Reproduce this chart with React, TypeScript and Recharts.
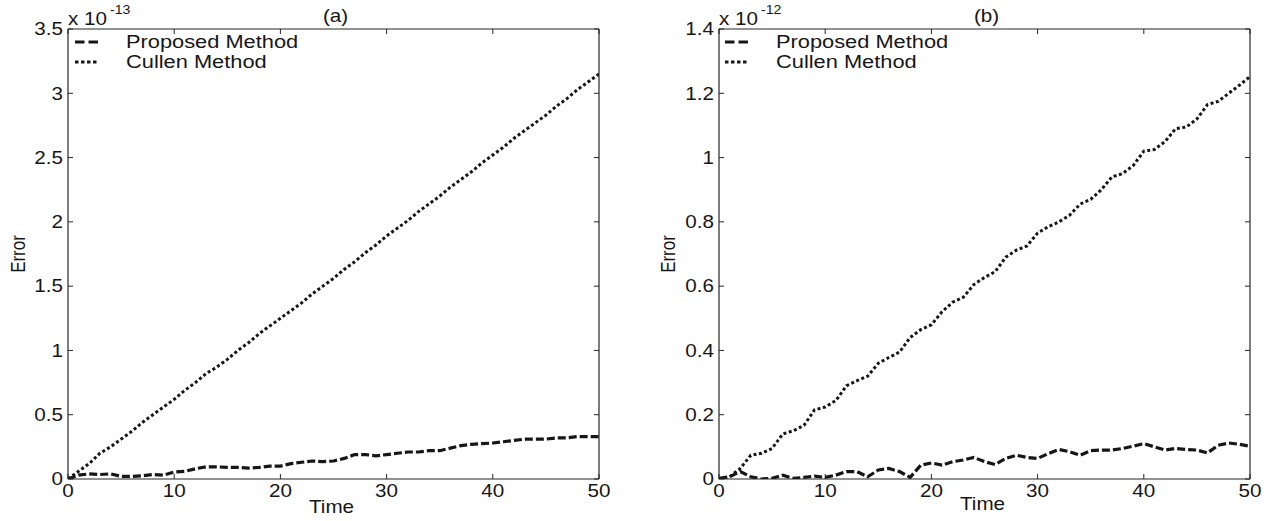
import React from 'react';
import { LineChart, Line, XAxis, YAxis, Legend, Label } from 'recharts';

const FONT = '"Liberation Sans", Arial, Helvetica, sans-serif';
const SX = 1.18; // horizontal stretch of glyphs
const INK = '#161616';
const FRAME = '#262626';
const TICK_LEN = 5;

const timeSteps = [
  0, 1, 2, 3, 4, 5, 6, 7, 8, 9, 10, 11, 12, 13, 14, 15, 16, 17, 18, 19, 20,
  21, 22, 23, 24, 25, 26, 27, 28, 29, 30, 31, 32, 33, 34, 35, 36, 37, 38, 39, 40,
  41, 42, 43, 44, 45, 46, 47, 48, 49, 50,
];

// Panel (a), values in units of 1e-13
const proposedA = [
  0, 0.03, 0.04, 0.035, 0.04, 0.02, 0.02, 0.025, 0.035, 0.03, 0.055,
  0.06, 0.08, 0.095, 0.095, 0.09, 0.09, 0.085, 0.09, 0.1, 0.1,
  0.12, 0.13, 0.14, 0.135, 0.14, 0.16, 0.19, 0.19, 0.18, 0.19,
  0.2, 0.21, 0.21, 0.22, 0.22, 0.24, 0.26, 0.27, 0.275, 0.28,
  0.29, 0.3, 0.31, 0.31, 0.31, 0.32, 0.32, 0.33, 0.33, 0.33,
];
const cullenA = [
  0, 0.06, 0.12, 0.2, 0.25, 0.31, 0.37, 0.44, 0.5, 0.56, 0.62,
  0.69, 0.75, 0.82, 0.87, 0.93, 1.0, 1.06, 1.13, 1.19, 1.25,
  1.31, 1.37, 1.44, 1.5, 1.56, 1.63, 1.69, 1.76, 1.82, 1.89,
  1.95, 2.01, 2.08, 2.14, 2.2, 2.27, 2.33, 2.39, 2.46, 2.52,
  2.58, 2.65, 2.71, 2.77, 2.83, 2.9, 2.96, 3.03, 3.09, 3.15,
];

// Panel (b), values in units of 1e-12
const proposedB = [
  0.002, 0.007, 0.023, 0.007, 0.0, 0.002, 0.012, 0.002, 0.005, 0.009, 0.005,
  0.012, 0.023, 0.023, 0.007, 0.028, 0.033, 0.023, 0.005, 0.043, 0.05,
  0.043, 0.054, 0.059, 0.067, 0.054, 0.045, 0.064, 0.074, 0.067, 0.064,
  0.079, 0.092, 0.085, 0.074, 0.088, 0.09, 0.09, 0.095, 0.102, 0.11,
  0.1, 0.09, 0.095, 0.092, 0.09, 0.081, 0.105, 0.112, 0.108, 0.102,
];
const cullenB = [
  0, 0.007, 0.033, 0.074, 0.08, 0.095, 0.14, 0.15, 0.167, 0.215, 0.224,
  0.244, 0.29, 0.306, 0.32, 0.36, 0.378, 0.395, 0.44, 0.465, 0.48,
  0.52, 0.55, 0.565, 0.605, 0.627, 0.645, 0.69, 0.712, 0.725, 0.765,
  0.785, 0.8, 0.82, 0.855, 0.87, 0.9, 0.94, 0.95, 0.975, 1.02,
  1.025, 1.05, 1.09, 1.095, 1.12, 1.165, 1.175, 1.2, 1.225, 1.252,
];

const xTicks = [0, 10, 20, 30, 40, 50];
const yTicksA = [0, 0.5, 1, 1.5, 2, 2.5, 3, 3.5];
const yTicksB = [0, 0.2, 0.4, 0.6, 0.8, 1, 1.2, 1.4];

const textStyle = { fontFamily: FONT, fill: INK } as const;

function LeftTick(props: any) {
  const { x, y, payload } = props;
  const ax = x + 5;
  return (
    <g>
      <line x1={ax} y1={y} x2={ax + TICK_LEN} y2={y} stroke={FRAME} strokeWidth={1} />
      <text
        transform={`translate(${x},${y + 6.3}) scale(${SX},1)`}
        textAnchor="end"
        fontSize={17.5}
        {...textStyle}
      >
        {String(payload.value)}
      </text>
    </g>
  );
}

function BottomTick(props: any) {
  const { x, y, payload } = props;
  return (
    <g>
      <line x1={x} y1={y} x2={x} y2={y - TICK_LEN} stroke={FRAME} strokeWidth={1} />
      <text
        transform={`translate(${x},${y + 18}) scale(${SX},1)`}
        textAnchor="middle"
        fontSize={17.5}
        {...textStyle}
      >
        {String(payload.value)}
      </text>
    </g>
  );
}

function RightTick(props: any) {
  const { x, y } = props;
  return <line x1={x} y1={y} x2={x - TICK_LEN} y2={y} stroke={FRAME} strokeWidth={1} />;
}

function TopTick(props: any) {
  const { x, y } = props;
  return <line x1={x} y1={y} x2={x} y2={y + TICK_LEN} stroke={FRAME} strokeWidth={1} />;
}

function LegendBox() {
  return (
    <svg width={260} height={48} style={{ display: 'block', overflow: 'visible' }}>
      <line x1={5} y1={12} x2={28} y2={12} stroke={INK} strokeWidth={3} strokeDasharray="9.5 4" />
      <text transform={`translate(56,18) scale(${SX},1)`} fontSize={18.5} {...textStyle}>
        Proposed Method
      </text>
      <line x1={5} y1={32} x2={28} y2={32} stroke={INK} strokeWidth={3} strokeDasharray="3.5 2.5" />
      <text transform={`translate(56,38) scale(${SX},1)`} fontSize={18.5} {...textStyle}>
        Cullen Method
      </text>
    </svg>
  );
}

type PanelProps = {
  left: number;
  width: number;
  marginLeft: number;
  marginRight: number;
  title: string;
  exponent: string;
  proposed: number[];
  cullen: number[];
  yMax: number;
  yTicks: number[];
  timeBaseline: number;
};

function Panel(p: PanelProps) {
  const data = timeSteps.map((t, i) => ({ t, proposed: p.proposed[i], cullen: p.cullen[i] }));
  const plotLeft = p.marginLeft + 60;
  const plotRight = p.width - p.marginRight - 10;
  const plotMid = (plotLeft + plotRight) / 2;
  const axisLine = { stroke: FRAME, strokeWidth: 1.2 };

  return (
    <div style={{ position: 'absolute', left: p.left, top: 0 }}>
      <LineChart
        width={p.width}
        height={521}
        data={data}
        margin={{ top: 19, right: p.marginRight, bottom: 12, left: p.marginLeft }}
      >
        <XAxis
          xAxisId="b"
          dataKey="t"
          type="number"
          domain={[0, 50]}
          ticks={xTicks}
          allowDataOverflow
          height={30}
          tickSize={0}
          tickMargin={0}
          tickLine={false}
          axisLine={axisLine}
          tick={(tp: any) => <BottomTick {...tp} />}
          interval={0}
        >
          <Label
            content={() => (
              <text
                transform={`translate(${plotMid - 2},${p.timeBaseline}) scale(${SX},1)`}
                textAnchor="middle"
                fontSize={17.5}
                {...textStyle}
              >
                Time
              </text>
            )}
          />
        </XAxis>
        <XAxis
          xAxisId="top"
          orientation="top"
          type="number"
          domain={[0, 50]}
          ticks={xTicks}
          allowDataOverflow
          height={10}
          tickSize={0}
          tickMargin={0}
          tickLine={false}
          axisLine={axisLine}
          tick={(tp: any) => <TopTick {...tp} />}
          interval={0}
        >
          <Label
            content={() => (
              <g>
                <text
                  transform={`translate(${plotMid + 2},22) scale(${SX},1)`}
                  textAnchor="middle"
                  fontSize={17.5}
                  {...textStyle}
                >
                  {p.title}
                </text>
                <text transform={`translate(${plotLeft},25) scale(${SX},1)`} fontSize={17.5} {...textStyle}>
                  x 10
                </text>
                <text transform={`translate(${plotLeft + 42},14) scale(${SX},1)`} fontSize={12} {...textStyle}>
                  {p.exponent}
                </text>
              </g>
            )}
          />
        </XAxis>
        <YAxis
          yAxisId="l"
          type="number"
          domain={[0, p.yMax]}
          ticks={p.yTicks}
          allowDataOverflow
          width={60}
          tickSize={0}
          tickMargin={5}
          tickLine={false}
          axisLine={axisLine}
          tick={(tp: any) => <LeftTick {...tp} />}
          interval={0}
        >
          <Label
            content={() => (
              <text
                transform={`translate(${p.left === 0 ? 25 : 25},254) scale(${SX},1) rotate(-90)`}
                textAnchor="middle"
                fontSize={17}
                {...textStyle}
              >
                Error
              </text>
            )}
          />
        </YAxis>
        <YAxis
          yAxisId="r"
          orientation="right"
          type="number"
          domain={[0, p.yMax]}
          ticks={p.yTicks}
          allowDataOverflow
          width={10}
          tickSize={0}
          tickMargin={0}
          tickLine={false}
          axisLine={axisLine}
          tick={(tp: any) => <RightTick {...tp} />}
          interval={0}
        />
        <Legend
          layout="horizontal"
          verticalAlign="middle"
          align="center"
          wrapperStyle={{ left: 70, top: 30, width: 'auto', height: 'auto' }}
          content={() => <LegendBox />}
        />
        <Line
          xAxisId="b"
          yAxisId="l"
          type="linear"
          dataKey="cullen"
          name="Cullen Method"
          stroke={INK}
          strokeWidth={3}
          strokeDasharray="3 2.5"
          dot={false}
          isAnimationActive={false}
        />
        <Line
          xAxisId="b"
          yAxisId="l"
          type="linear"
          dataKey="proposed"
          name="Proposed Method"
          stroke={INK}
          strokeWidth={3.2}
          strokeDasharray="8 3"
          dot={false}
          isAnimationActive={false}
        />
      </LineChart>
    </div>
  );
}

export default function App() {
  return (
    <div
      style={{
        position: 'fixed',
        left: 0,
        top: 0,
        width: 1279,
        height: 521,
        background: '#ffffff',
        overflow: 'hidden',
      }}
    >
      <Panel
        left={0}
        width={640}
        marginLeft={8}
        marginRight={31}
        title="(a)"
        exponent="-13"
        proposed={proposedA}
        cullen={cullenA}
        yMax={3.5}
        yTicks={yTicksA}
        timeBaseline={513}
      />
      <Panel
        left={650}
        width={620}
        marginLeft={9}
        marginRight={10}
        title="(b)"
        exponent="-12"
        proposed={proposedB}
        cullen={cullenB}
        yMax={1.4}
        yTicks={yTicksB}
        timeBaseline={510}
      />
    </div>
  );
}
